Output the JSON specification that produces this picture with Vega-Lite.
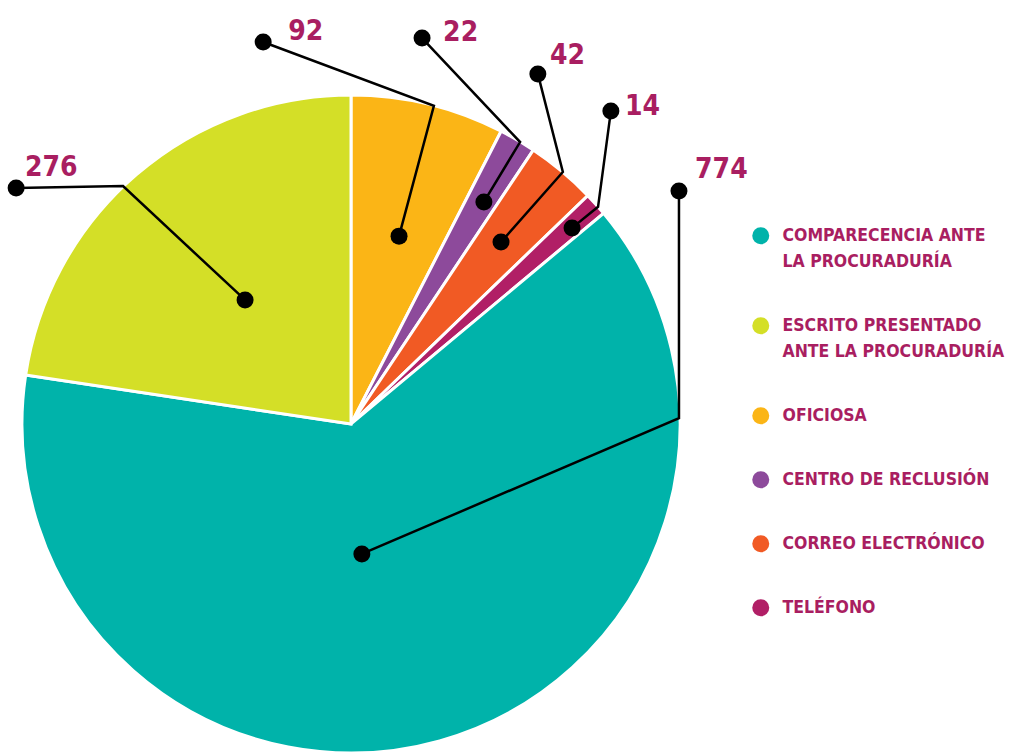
{
  "$schema": "https://vega.github.io/schema/vega-lite/v6.json",
  "autosize": "none",
  "width": 702,
  "height": 662,
  "padding": {"left": 0, "top": 93, "right": 307, "bottom": 0},
  "background": "white",
  "datasets": {
    "medios": [
      {"medio": "Oficiosa", "n": 92, "orden": 1},
      {"medio": "Centro de reclusión", "n": 22, "orden": 2},
      {"medio": "Correo electrónico", "n": 42, "orden": 3},
      {"medio": "Teléfono", "n": 14, "orden": 4},
      {"medio": "Comparecencia ante la Procuraduría", "n": 774, "orden": 5},
      {"medio": "Escrito presentado ante la Procuraduría", "n": 276, "orden": 6}
    ],
    "guias": [
      {"medio": "Oficiosa", "paso": 0, "x": -26.7, "y": 116.1},
      {"medio": "Oficiosa", "paso": 1, "x": 25.2, "y": 96.7},
      {"medio": "Oficiosa", "paso": 2, "x": 14.6, "y": 57.1},
      {"medio": "Centro de reclusión", "paso": 0, "x": 21.6, "y": 117.3},
      {"medio": "Centro de reclusión", "paso": 1, "x": 51.4, "y": 85.7},
      {"medio": "Centro de reclusión", "paso": 2, "x": 40.4, "y": 67.5},
      {"medio": "Correo electrónico", "paso": 0, "x": 56.8, "y": 106.4},
      {"medio": "Correo electrónico", "paso": 1, "x": 64.4, "y": 76.6},
      {"medio": "Correo electrónico", "paso": 2, "x": 45.6, "y": 55.3},
      {"medio": "Teléfono", "paso": 0, "x": 79.0, "y": 95.1},
      {"medio": "Teléfono", "paso": 1, "x": 75.1, "y": 66.0},
      {"medio": "Teléfono", "paso": 2, "x": 67.2, "y": 59.6},
      {"medio": "Escrito presentado ante la Procuraduría", "paso": 0, "x": -101.8, "y": 71.7},
      {"medio": "Escrito presentado ante la Procuraduría", "paso": 1, "x": -69.3, "y": 72.3},
      {"medio": "Escrito presentado ante la Procuraduría", "paso": 2, "x": -32.2, "y": 37.7},
      {"medio": "Comparecencia ante la Procuraduría", "paso": 0, "x": 99.7, "y": 70.8},
      {"medio": "Comparecencia ante la Procuraduría", "paso": 1, "x": 99.7, "y": 1.8},
      {"medio": "Comparecencia ante la Procuraduría", "paso": 2, "x": 3.3, "y": -39.5}
    ],
    "etiquetas": [
      {"texto": "92", "x": -19.1, "y": 116.7},
      {"texto": "22", "x": 28.0, "y": 116.4},
      {"texto": "42", "x": 60.5, "y": 109.4},
      {"texto": "14", "x": 83.3, "y": 93.9},
      {"texto": "276", "x": -99.1, "y": 75.4},
      {"texto": "774", "x": 104.6, "y": 74.8}
    ]
  },
  "layer": [
    {
      "data": {"name": "medios"},
      "mark": {"type": "arc", "outerRadius": 329, "stroke": "white", "strokeWidth": 3},
      "encoding": {
        "theta": {"field": "n", "type": "quantitative", "stack": true},
        "order": {"field": "orden", "type": "quantitative"},
        "color": {
          "field": "medio",
          "type": "nominal",
          "scale": {
            "domain": ["Comparecencia ante la Procuraduría", "Escrito presentado ante la Procuraduría", "Oficiosa", "Centro de reclusión", "Correo electrónico", "Teléfono"],
            "range": ["#00B3AA", "#D4DF27", "#FBB516", "#8D4A9B", "#F15A24", "#B11F66"]
          },
          "legend": {
            "orient": "none",
            "legendX": 752,
            "legendY": 134,
            "title": null,
            "symbolType": "circle",
            "symbolSize": 289,
            "symbolStrokeWidth": 0,
            "labelFont": "'DejaVu Sans Condensed', 'DejaVu Sans', sans-serif",
            "labelFontWeight": "bold",
            "labelFontSize": 17.5,
            "labelColor": "#A91E61",
            "labelOffset": 13,
            "labelLimit": 300,
            "rowPadding": 45,
            "labelExpr": "datum.label == 'Comparecencia ante la Procuraduría' ? ['COMPARECENCIA ANTE', 'LA PROCURADURÍA'] : datum.label == 'Escrito presentado ante la Procuraduría' ? ['ESCRITO PRESENTADO', 'ANTE LA PROCURADURÍA'] : upper(datum.label)"
          }
        }
      }
    },
    {
      "data": {"name": "guias"},
      "mark": {"type": "line", "color": "black", "strokeWidth": 2.5, "clip": false},
      "encoding": {
        "x": {"field": "x", "type": "quantitative", "scale": {"domain": [-106.7, 106.7], "zero": false, "nice": false}, "axis": null},
        "y": {"field": "y", "type": "quantitative", "scale": {"domain": [-100.6, 100.6], "zero": false, "nice": false}, "axis": null},
        "detail": {"field": "medio", "type": "nominal"},
        "order": {"field": "paso", "type": "quantitative"}
      }
    },
    {
      "data": {"name": "guias"},
      "transform": [{"filter": "datum.paso != 1"}],
      "mark": {"type": "point", "filled": true, "color": "black", "size": 289, "opacity": 1, "clip": false},
      "encoding": {
        "x": {"field": "x", "type": "quantitative"},
        "y": {"field": "y", "type": "quantitative"}
      }
    },
    {
      "data": {"name": "etiquetas"},
      "mark": {"type": "text", "align": "left", "baseline": "alphabetic", "font": "'DejaVu Sans Condensed', 'DejaVu Sans', sans-serif", "fontWeight": "bold", "fontSize": 28, "color": "#A91E61", "clip": false},
      "encoding": {
        "x": {"field": "x", "type": "quantitative"},
        "y": {"field": "y", "type": "quantitative"},
        "text": {"field": "texto", "type": "nominal"}
      }
    }
  ],
  "config": {
    "view": {"stroke": null},
    "style": {"guide-label": {"lineHeight": 26}}
  }
}
